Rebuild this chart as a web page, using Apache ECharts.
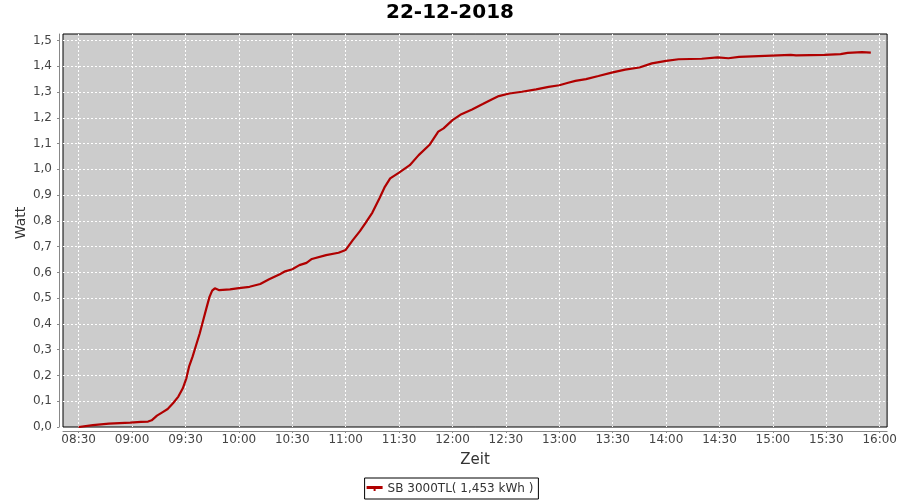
<!DOCTYPE html>
<html>
<head>
<meta charset="utf-8">
<script src="https://cdn.jsdelivr.net/npm/echarts@6/dist/echarts.min.js"></script>
<style>html,body{margin:0;padding:0;background:#fff}#c{width:900px;height:500px}</style>
</head>
<body>
<div id="c"></div>
<script>
const chartTitle = '22-12-2018';
const seriesName = 'SB 3000TL( 1,453 kWh )';
const times = ['08:30','08:38','08:47','08:59','09:05','09:09','09:11','09:14','09:17','09:20','09:23','09:26','09:28:30','09:30:30','09:32','09:34','09:36','09:38','09:40','09:42','09:43:30','09:45','09:46:30','09:49','09:55','10:00','10:06','10:12','10:17','10:23','10:26','10:30','10:34','10:38','10:41','10:49','10:56','11:00','11:04','11:08','11:11','11:15','11:19','11:22','11:25','11:30','11:36','11:41','11:47','11:52','11:55','12:00','12:05','12:11','12:17','12:22','12:26','12:32','12:39','12:47','12:54','13:00','13:05','13:09','13:15','13:22','13:30','13:37','13:45','13:52','14:00','14:07','14:20','14:29','14:35','14:41','14:52','15:10','15:13','15:29','15:38','15:42','15:50','15:55'];
const values = [0.000,0.007,0.013,0.017,0.020,0.021,0.026,0.044,0.057,0.070,0.092,0.118,0.150,0.189,0.234,0.273,0.318,0.363,0.415,0.467,0.505,0.529,0.538,0.531,0.534,0.539,0.544,0.555,0.573,0.593,0.604,0.612,0.628,0.637,0.652,0.667,0.676,0.687,0.725,0.760,0.790,0.832,0.888,0.932,0.965,0.987,1.016,1.055,1.094,1.146,1.159,1.191,1.214,1.232,1.253,1.271,1.284,1.294,1.301,1.310,1.320,1.326,1.336,1.343,1.350,1.362,1.376,1.387,1.395,1.411,1.421,1.427,1.429,1.434,1.431,1.436,1.439,1.444,1.442,1.444,1.447,1.452,1.455,1.453];
const xTickLabels = ['08:30','09:00','09:30','10:00','10:30','11:00','11:30','12:00','12:30','13:00','13:30','14:00','14:30','15:00','15:30','16:00'];
const xMinStr = '08:21:12';
const xMaxStr = '16:04:09';
const yMin = 0, yMax = 1.525, yStep = 0.1;

function toMin(t){
  const p = t.split(':').map(Number);
  return p[0]*60 + p[1] + (p[2]||0)/60;
}
function pad(n){return (n<10?'0':'')+n;}
function fmt(v){const m=Math.round(v);return pad(Math.floor(m/60))+':'+pad(m%60);}

const data = times.map((t,i)=>[toMin(t), values[i]]);
const xTicks = xTickLabels.map(toMin);
const font = 'DejaVu Sans';
const chart = echarts.init(document.getElementById('c'), null, {renderer:'canvas'});
chart.setOption({
  animation:false,
  textStyle:{fontFamily:font},
  title:{text:chartTitle,left:'center',top:3,padding:0,
    textStyle:{fontFamily:font,fontSize:20,fontWeight:'bold',color:'#000'}},
  grid:{left:63,right:11.5,top:34,bottom:73,show:true,backgroundColor:'#cccccc',borderColor:'#000',borderWidth:1,containLabel:false},
  legend:{bottom:1,left:'center',padding:[4.5,5,4.5,2],borderColor:'#000',borderWidth:1,
    itemWidth:16,itemHeight:5,icon:'path://M0,0H16V3H0Z M7,3H9V5H7Z',
    textStyle:{fontFamily:font,fontSize:12,color:'#333'},data:[seriesName]},
  xAxis:{type:'value',min:toMin(xMinStr),max:toMin(xMaxStr),offset:4,
    name:'Zeit',nameLocation:'middle',nameGap:22,nameMoveOverlap:false,
    nameTextStyle:{fontFamily:font,fontSize:15,color:'#333'},
    axisLine:{show:true,onZero:false,lineStyle:{color:'#888',width:1}},
    axisTick:{show:true,length:2,customValues:xTicks,lineStyle:{color:'#888'}},
    axisLabel:{margin:3,fontFamily:font,fontSize:12,color:'#444',hideOverlap:false,customValues:xTicks,
      formatter:function(v){return fmt(v);}},
    splitLine:{show:true,customValues:xTicks,lineStyle:{color:'#fff',type:[2,2],width:1}}
  },
  yAxis:{type:'value',min:yMin,max:yMax,interval:yStep,offset:4,
    name:'Watt',nameLocation:'middle',nameGap:31,nameMoveOverlap:false,
    nameTextStyle:{fontFamily:font,fontSize:14,color:'#333',padding:[0,0,0,15]},
    axisLine:{show:true,lineStyle:{color:'#888',width:1}},
    axisTick:{show:true,length:2,lineStyle:{color:'#888'}},
    axisLabel:{margin:7,fontFamily:font,fontSize:12,color:'#444',showMaxLabel:false,
      formatter:function(v){if(Math.abs(v*10-Math.round(v*10))>1e-6)return '';return v.toFixed(1).replace('.',',');}},
    splitLine:{show:true,showMinLine:false,showMaxLine:false,lineStyle:{color:'#fff',type:[2,2],width:1}}
  },
  series:[{name:seriesName,type:'line',data:data,showSymbol:false,symbol:'none',
    lineStyle:{color:'#b00000',width:2.2},itemStyle:{color:'#b00000'}}]
});
</script>
</body>
</html>
